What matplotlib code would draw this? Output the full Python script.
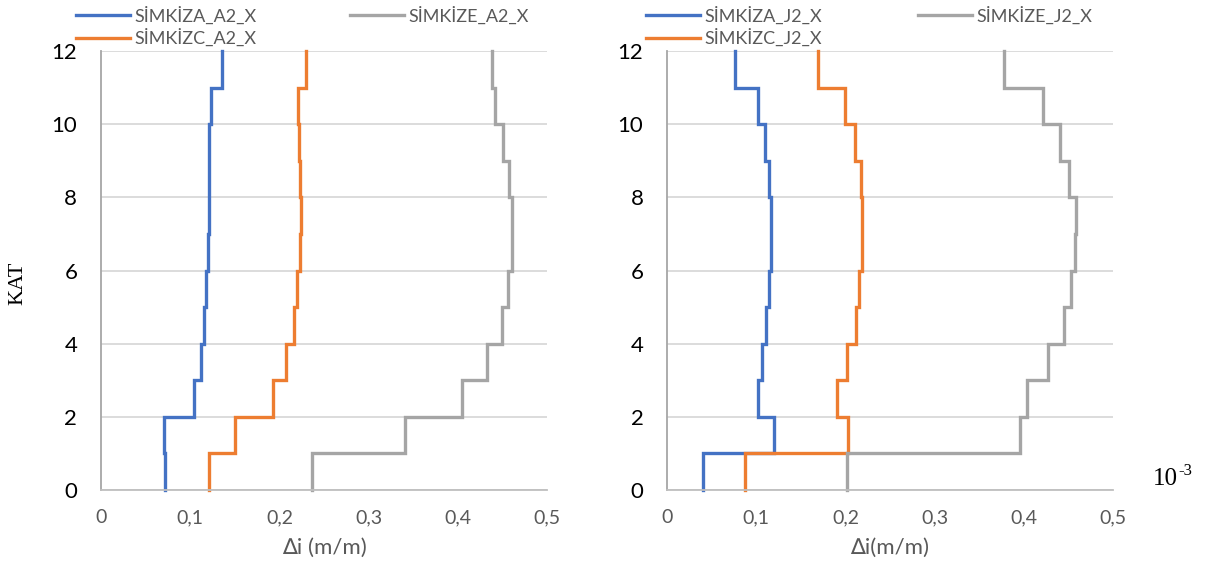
import matplotlib
matplotlib.use('Agg')
import matplotlib.pyplot as plt
import numpy as np

plt.rcParams['font.family'] = ['Lato', 'DejaVu Sans']

# story boundaries (0..12) and drift per story interval (1..12)
floors = np.arange(0, 13)

simkiza_a2 = [0.072, 0.071, 0.104, 0.112, 0.116, 0.118, 0.120, 0.121, 0.121, 0.121, 0.123, 0.136]
simkizc_a2 = [0.121, 0.150, 0.193, 0.207, 0.216, 0.220, 0.223, 0.224, 0.223, 0.222, 0.221, 0.230]
simkize_a2 = [0.237, 0.341, 0.405, 0.433, 0.449, 0.456, 0.461, 0.461, 0.457, 0.451, 0.442, 0.438]

simkiza_j2 = [0.040, 0.120, 0.102, 0.106, 0.111, 0.114, 0.116, 0.116, 0.114, 0.110, 0.102, 0.076]
simkizc_j2 = [0.087, 0.203, 0.191, 0.202, 0.212, 0.215, 0.218, 0.219, 0.217, 0.211, 0.200, 0.169]
simkize_j2 = [0.202, 0.396, 0.404, 0.427, 0.445, 0.453, 0.457, 0.458, 0.451, 0.440, 0.422, 0.378]

labels_a2 = ['SİMKİZA_A2_X', 'SİMKİZC_A2_X', 'SİMKİZE_A2_X']
labels_j2 = ['SİMKİZA_J2_X', 'SİMKİZC_J2_X', 'SİMKİZE_J2_X']
colors = ['#4472C4', '#ED7D31', '#A5A5A5']

x_ticks = [0, 0.1, 0.2, 0.3, 0.4, 0.5]
x_ticklabels = ['0', '0,1', '0,2', '0,3', '0,4', '0,5']
y_ticks = [0, 2, 4, 6, 8, 10, 12]


def story_steps(values):
    x = np.repeat(values, 2)
    y = np.repeat(floors, 2)[1:-1]
    return x, y


fig = plt.figure(figsize=(12.21, 5.68), dpi=100)
ax1 = fig.add_axes([0.0827, 0.1373, 0.3653, 0.7729])
ax2 = fig.add_axes([0.5463, 0.1373, 0.3653, 0.7729])

panels = [
    (ax1, [simkiza_a2, simkizc_a2, simkize_a2], labels_a2, '∆i (m/m)', (-0.056, 1.102), 5.15),
    (ax2, [simkiza_j2, simkizc_j2, simkize_j2], labels_j2, '∆i(m/m)', (-0.047, 1.102), 5.3),
]

for ax, series, labels, xlabel, leg_anchor, colsp in panels:
    for vals, lab, col in zip(series, labels, colors):
        x, y = story_steps(vals)
        ax.plot(x, y, color=col, lw=2.4, label=lab, clip_on=False,
                solid_joinstyle='miter')

    ax.set_xlim(0, 0.5)
    ax.set_ylim(0, 12)
    ax.set_xticks(x_ticks)
    ax.set_xticklabels(x_ticklabels)
    ax.set_yticks(y_ticks)
    ax.tick_params(axis='x', length=0, pad=14, labelsize=14, labelcolor='#595959')
    ax.tick_params(axis='y', length=0, pad=17, labelsize=16, labelcolor='black')
    ax.grid(axis='y', color='#d9d9d9', lw=1.3)
    ax.set_axisbelow(True)
    for s in ('top', 'right'):
        ax.spines[s].set_visible(False)
    ax.spines['left'].set_color('#a6a6a6')
    ax.spines['bottom'].set_color('#bfbfbf')
    ax.spines['left'].set_linewidth(1.3)
    ax.spines['bottom'].set_linewidth(1.3)
    ax.set_xlabel(xlabel, fontsize=16, color='#595959', labelpad=8)

    ax.legend(loc='upper left', bbox_to_anchor=leg_anchor, ncol=2, frameon=False,
              fontsize=13, labelcolor='#595959', handlelength=3.0,
              handletextpad=0.25, labelspacing=0.25, columnspacing=colsp,
              borderaxespad=0, borderpad=0)

fig.text(18 / 1221, 1 - 283 / 568, 'KAT', rotation=90, ha='center', va='center',
         fontsize=16, family='Liberation Serif')
fig.text(1153 / 1221, 1 - 485 / 568, '10', ha='left', va='baseline',
         fontsize=18, family='Liberation Serif')
fig.text(1178 / 1221, 1 - 475 / 568, '-3', ha='left', va='baseline',
         fontsize=12, family='Liberation Serif')

fig.savefig('out.png', dpi=100)
